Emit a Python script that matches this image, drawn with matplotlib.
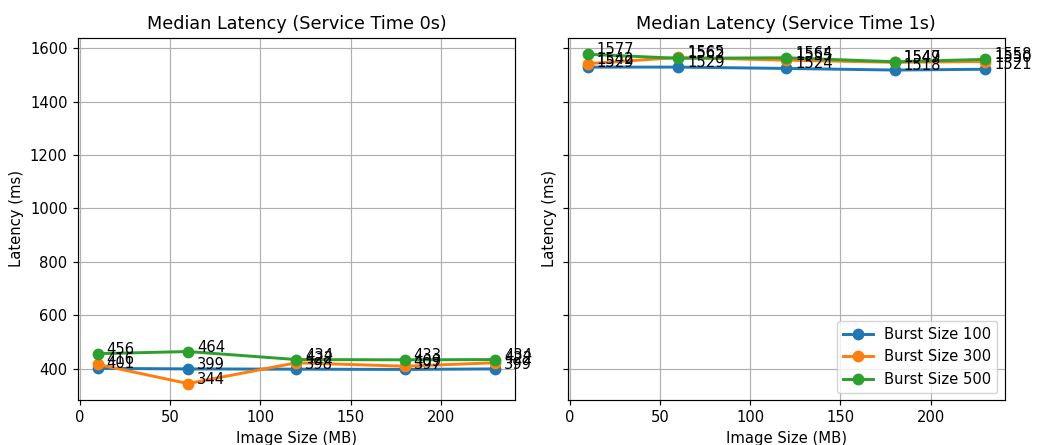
import matplotlib
matplotlib.use("Agg")
import matplotlib.pyplot as plt

# Tamanhos de imagem (MB)
image_sizes = [10, 60, 120, 180, 230]
burst_sizes = [100, 300, 500]

# Latencia mediana, service time 0s
lat_0s = {
    100: [401, 399, 398, 397, 399],
    300: [416, 344, 422, 409, 422],
    500: [456, 464, 434, 433, 434],
}

# Latencia mediana, service time 1s
lat_1s = {
    100: [1529, 1529, 1524, 1518, 1521],
    300: [1542, 1565, 1555, 1547, 1550],
    500: [1577, 1562, 1564, 1549, 1558],
}

dpi = 106
fig, axes = plt.subplots(1, 2, figsize=(1037 / dpi, 445 / dpi), dpi=dpi, sharey=True)

for ax, dados, st in zip(axes, [lat_0s, lat_1s], ["0s", "1s"]):
    for b in burst_sizes:
        ax.plot(image_sizes, dados[b], marker='o', markersize=7, linewidth=2, label=f"Burst Size {b}")
        for x, y in zip(image_sizes, dados[b]):
            ax.text(x + 5, y, str(y), fontsize=10)
    ax.set_title(f"Median Latency (Service Time {st})", fontsize=12)
    ax.set_xlabel("Image Size (MB)")
    ax.set_ylabel("Latency (ms)")
    ax.grid(True)

axes[1].legend(loc='lower right')
fig.subplots_adjust(left=0.075, right=0.969, top=0.915, bottom=0.101, wspace=0.121)
plt.savefig("out.png", dpi=dpi)
